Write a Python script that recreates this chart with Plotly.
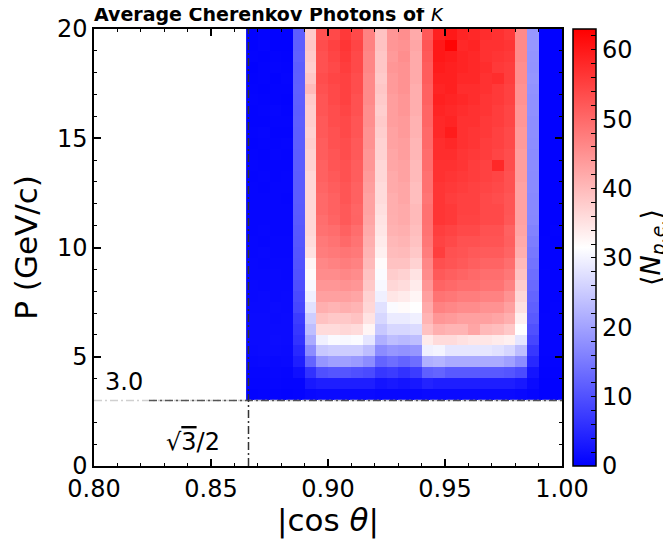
import plotly.graph_objects as go

# |cos theta| bin edges (27 bins) and momentum bin edges (34 bins)
cos_edges = [0.865, 0.870, 0.875, 0.880, 0.885, 0.890, 0.895, 0.900, 0.905, 0.910,
             0.915, 0.920, 0.925, 0.930, 0.935, 0.940, 0.945, 0.950, 0.955, 0.960,
             0.965, 0.970, 0.975, 0.980, 0.985, 0.990, 0.995, 1.000]
p_edges = [3.0, 3.5, 4.0, 4.5, 5.0, 5.5, 6.0, 6.5, 7.0, 7.5, 8.0, 8.5, 9.0, 9.5,
           10.0, 10.5, 11.0, 11.5, 12.0, 12.5, 13.0, 13.5, 14.0, 14.5, 15.0, 15.5,
           16.0, 16.5, 17.0, 17.5, 18.0, 18.5, 19.0, 19.5, 20.0]

# average photo-electrons, rows listed from P = 19.5-20 (top) down to P = 3-3.5
npe_top_down = [
    [0.3,0.5,0.4,0.2, 11.5,38,53,54,56,54,47,39,44.5, 45.5,42,52,59,60,58.5,58,57.5,57,56,46,18.5, 0.3,0.2],
    [0.4,0.6,0.3,0.3, 11.6,38.5,53.5,55,56.5,54.5,47,39,44.5, 45,42.5,52.5,60,62.5,58,58.5,57,57,56.5,46,18.5, 0.2,0.3],
    [0.5,0.4,0.5,0.4, 11.8,38,53,54.5,56,54,46.5,38.5,44, 45.5,42,52,60,59.5,58.5,58,57,56.5,56,46,18.3, 0.3,0.2],
    [0.3,0.5,0.6,0.5, 11.5,37.5,53,54,55.5,54,46.5,38.5,44.5, 45,42,51.5,59.5,59,58.5,58,57.5,56,55.5,45.5,18.2, 0.3,0.3],
    [0.4,0.5,0.4,0.6, 11.6,38.5,53.5,54.5,55,53.5,46,38,44, 45,42,51.5,59,59,58,58,57,57.5,55.5,45.5,18.4, 0.2,0.3],
    [0.5,0.4,0.5,0.5, 11.7,40,53,54,55,53.5,46,38.5,44, 45,41.5,51,58.5,59,57.5,57.5,57,56,55,45,18.0, 0.3,0.2],
    [0.6,0.5,0.5,0.4, 11.6,38,52.5,54,55,53,46,38,43.5, 44.5,41.5,51,59,58.5,58,57.5,56.5,56,55,45,17.8, 0.2,0.3],
    [0.5,0.6,0.7,0.5, 11.5,37.5,52.5,53.5,54.5,53,45.5,37.5,43.5, 44.5,41.5,50.5,58.5,58,57.5,57,56.5,55.5,54.5,44.5,17.8, 0.3,0.3],
    [0.5,0.5,0.6,0.6, 11.6,37.5,52,53.5,54,52.5,45.5,38,43.5, 44,41,50.5,58,58.5,57,57,56,55.5,54.5,44.5,17.6, 0.3,0.2],
    [0.6,0.7,0.5,0.5, 11.5,37,52,53,54,52.5,45,37.5,43, 44,41,50,58,59.5,57,56.5,56,55,54,44,17.5, 0.2,0.3],
    [0.5,0.6,0.6,0.7, 11.5,37.5,51.5,53,53.5,52,45,37,43, 43.5,40.5,50,57.5,58,57,56.5,55.5,55,54,44,17.4, 0.3,0.3],
    [0.6,0.5,0.7,0.6, 11.4,37,51.5,52.5,53.5,52,44.5,37,42.5, 43.5,40.5,49.5,57.5,57.5,56.5,56,55.5,54.5,53.5,43.5,17.2, 0.3,0.2],
    [0.7,0.6,0.6,0.6, 11.4,37,51,52.5,53,51.5,44.5,36.5,42.5, 43,40,49.5,57,57,56.5,55.5,55,58,53.5,43.5,17.2, 0.2,0.3],
    [0.6,0.7,0.6,0.7, 11.3,36.5,51,52,53,51.5,44,36.5,42, 43,40,49,57,56.5,56,55.5,55,54.5,53,43.5,17.0, 0.3,0.3],
    [0.7,0.6,0.7,0.7, 11.3,36.5,50.5,51.5,52.5,51,43.5,36,42, 42.5,39.5,49,56.5,56,55.5,55,54.5,54,53,43,17.0, 0.3,0.2],
    [0.7,0.8,0.7,0.6, 11.2,36.5,50,51,52.5,51,43,36,41.5, 42.5,39.5,48.5,56.5,55.5,55,55,54,53.5,52.5,43,16.8, 0.3,0.3],
    [0.8,0.7,0.7,0.8, 11.1,36.5,50,51,52,50.5,43,35.5,41.5, 42,40,49,56.5,56,55,55,54,54,52.5,43,16.8, 0.3,0.3],
    [0.8,0.8,0.7,0.8, 11.0,36.5,49.4,50.6,52,50.6,42.6,35,41.4, 42,40,49,56.5,56,54.7,54.7,54,54,52.2,43,16.7, 0.3,0.3],
    [0.8,0.9,0.8,0.8, 10.8,36.5,49,49.5,51,49.5,42,34.6,41, 41.4,39.5,48.8,55.3,54.7,54,54,53,53,51,42.6,16.0, 0.3,0.4],
    [0.9,0.8,0.9,0.9, 10.6,36,48,48.8,50,48.8,41.4,34,40.3, 40.8,39,48.3,54.7,54,53,53,52.6,52.6,51.3,42,15.4, 0.4,0.3],
    [0.9,1.0,0.9,0.9, 10.4,35.2,47.5,48,48.5,48,40.8,33.4,39.8, 40,38.3,47.5,55.3,53,52.6,52,51.7,51.7,50.6,41.4,14.8, 0.4,0.4],
    [1.0,0.9,1.0,1.0, 10.2,32.7,46.3,47,47.6,47,40,32,39, 39,37,46.3,53.2,52.6,52,51.3,50.6,50.6,49.4,40,14.2, 0.4,0.4],
    [1.0,1.0,1.1,1.0, 10.0,32,45.7,45.7,46.3,45.7,39,31,37.7, 37,35,45.7,52,51.3,50.6,50,49.4,49.4,48.3,39,13.6, 0.5,0.4],
    [1.1,1.0,1.1,1.1, 9.6,30.6,44.5,44.5,45,44.5,38.3,30.6,36.5, 35.8,34,44.5,50.6,50,49.4,49.4,48.8,48.8,47,37.7,13.0, 0.5,0.5],
    [1.1,1.2,1.1,1.2, 9.2,29.6,43.2,43.2,43.2,42.6,37,29.6,34.6, 34,32.7,43.2,48.8,48.3,47.5,47.5,47,47,45,36.5,12.4, 0.5,0.5],
    [1.2,1.2,1.3,1.2, 8.6,27.8,41.4,40.8,41.4,40.8,36.5,27.8,31, 32,31.5,42,47,46.3,45.7,45.7,45,45,43.2,35.2,11.7, 0.5,0.6],
    [1.3,1.3,1.2,1.4, 7.4,25.3,39,38.3,38.3,39,35,26.5,29, 29,29.6,40.8,44.5,44,43.2,43.2,43.2,42.6,41.4,33.4,11.0, 0.6,0.6],
    [1.4,1.3,1.4,1.4, 6.8,23.5,36,36,36.5,36,32.7,24.7,26.5, 26.5,27,39,41.4,40.8,40.8,42.6,40.2,39.6,38.3,31.5,9.9, 0.6,0.6],
    [1.3,1.4,1.5,1.4, 6.2,21,29.6,30.9,30.6,31,28.4,21.6,23.5, 22.8,23.5,34,36,36,35.2,34.6,34.6,34,33.4,28.4,8.6, 0.6,0.6],
    [1.2,1.3,1.3,1.2, 5.0,17.3,24.7,25.3,25.3,25.3,23.5,17.3,18.5, 18,18.5,29.6,30.2,28.4,28.4,28.4,28.4,27.8,26.5,23.5,6.8, 0.6,0.6],
    [1.0,1.1,1.0,1.1, 3.7,12.4,18.5,19.8,19.8,19,17.3,12.4,13.6, 12.4,13.6,21.6,22.2,21,21,21,21,21,19.8,17.3,5.0, 0.5,0.5],
    [0.8,0.8,0.9,0.8, 1.9,6.2,9.9,10.5,10.5,9.9,9.3,6.8,7.4, 6.2,7.4,11.7,12.4,11,11,11,11,11,10.5,9.3,2.5, 0.4,0.4],
    [0.6,0.6,0.7,0.6, 0.6,3,3.7,3.7,3.7,3.7,3.7,2.5,3, 2.5,3,4.3,3.7,3.7,3.7,3.7,3.7,3.7,3.7,3,1.2, 0.3,0.3],
    [0.4,0.5,0.5,0.4, 0.5,1,1.2,1.2,1.2,1.2,1.2,1,1, 1,1,1.2,1.2,1.2,1.2,1.2,1.2,1.2,1.2,1.0,0.6, 0.3,0.3],
]
npe = npe_top_down[::-1]

x_tick_vals = [0.80, 0.85, 0.90, 0.95, 1.00]
x_tick_text = ["0.80", "0.85", "0.90", "0.95", "1.00"]
y_tick_vals = [0, 5, 10, 15, 20]
cbar_tick_vals = [0, 2, 4, 6, 8, 10, 12, 14, 16, 18, 20, 22, 24, 26, 28, 30, 32, 34, 36,
                  38, 40, 42, 44, 46, 48, 50, 52, 54, 56, 58, 60, 62]
cbar_tick_text = [str(v) if v % 10 == 0 else "" for v in cbar_tick_vals]

p_threshold = 3.0
cos_limit = 0.8660254

FONT = "DejaVu Sans"

# page body adds an 8px offset, so the figure is sized/margined to compensate
W, H = 663, 531

fig = go.Figure()
fig.add_trace(go.Heatmap(
    x=cos_edges, y=p_edges, z=npe,
    zmin=0, zmax=63,
    colorscale=[[0, "rgb(0,0,255)"], [0.5, "rgb(255,255,255)"], [1, "rgb(255,0,0)"]],
    showscale=True,
    colorbar=dict(
        thickness=23, thicknessmode="pixels",
        len=1, lenmode="fraction",
        x=1.0235, xanchor="left", xpad=0,
        y=0.5, yanchor="middle", ypad=0,
        outlinewidth=1.5, outlinecolor="black",
        ticks="inside", ticklen=5, tickwidth=1.2, tickcolor="black",
        tickvals=cbar_tick_vals, ticktext=cbar_tick_text,
        tickfont=dict(family=FONT, size=24, color="black"),
        title=dict(text="⟨<i>N</i><sub><i>p.e.</i></sub>⟩", side="right",
                   font=dict(family=FONT, size=27, color="black")),
    ),
    hoverongaps=False,
))

dash = "8px,3px,2px,3px"
# threshold lines
fig.add_shape(type="line", x0=0.8, x1=1.0, y0=p_threshold, y1=p_threshold,
              line=dict(color="#d0d0d0", width=1.5, dash=dash))
fig.add_shape(type="line", x0=0.8235, x1=1.0, y0=p_threshold, y1=p_threshold,
              line=dict(color="#555555", width=1.5, dash=dash))
fig.add_shape(type="line", x0=cos_limit, x1=cos_limit, y0=0, y1=20,
              line=dict(color="#333333", width=1.5, dash=dash))

fig.add_annotation(x=0.8128, y=3.85, text="3.0", showarrow=False,
                   font=dict(family=FONT, size=24, color="black"))
fig.add_annotation(x=0.8423, y=1.1,
                   text="√<span style='text-decoration:overline'>3</span>/2",
                   showarrow=False, font=dict(family=FONT, size=24, color="black"))

axis_common = dict(
    showline=True, linecolor="black", linewidth=1.5, mirror="ticks",
    ticks="inside", ticklen=7, tickwidth=1.5, tickcolor="black",
    showgrid=False, zeroline=False, automargin=False,
    tickfont=dict(family=FONT, size=24, color="black"),
)
fig.update_xaxes(range=[0.8, 1.0], tickvals=x_tick_vals, ticktext=x_tick_text,
                 minor=dict(dtick=0.01, tick0=0.8, ticks="inside", ticklen=3.5,
                            tickwidth=1.2, tickcolor="black", showgrid=False),
                 title=dict(text="|cos <i>θ</i>|", font=dict(family=FONT, size=31, color="black"),
                            standoff=2),
                 **axis_common)
fig.update_yaxes(range=[0, 20], tickvals=y_tick_vals,
                 minor=dict(dtick=1, tick0=0, ticks="inside", ticklen=3.5,
                            tickwidth=1.2, tickcolor="black", showgrid=False),
                 title=dict(text="P (GeV/c)", font=dict(family=FONT, size=31, color="black"),
                            standoff=10),
                 **axis_common)

fig.update_layout(
    width=W, height=H,
    margin=dict(l=86, r=109, t=21, b=73, autoexpand=False),
    plot_bgcolor="white", paper_bgcolor="white",
    font=dict(family=FONT, color="black"),
    title=dict(text="<b>Average Cherenkov Photons of </b><i>K</i>",
               x=86 / W, xref="container", xanchor="left",
               y=1.0, yref="container", yanchor="top", pad=dict(t=0, b=0, l=0, r=0),
               font=dict(family=FONT, size=19, color="black")),
)

fig.write_html("out.html")
